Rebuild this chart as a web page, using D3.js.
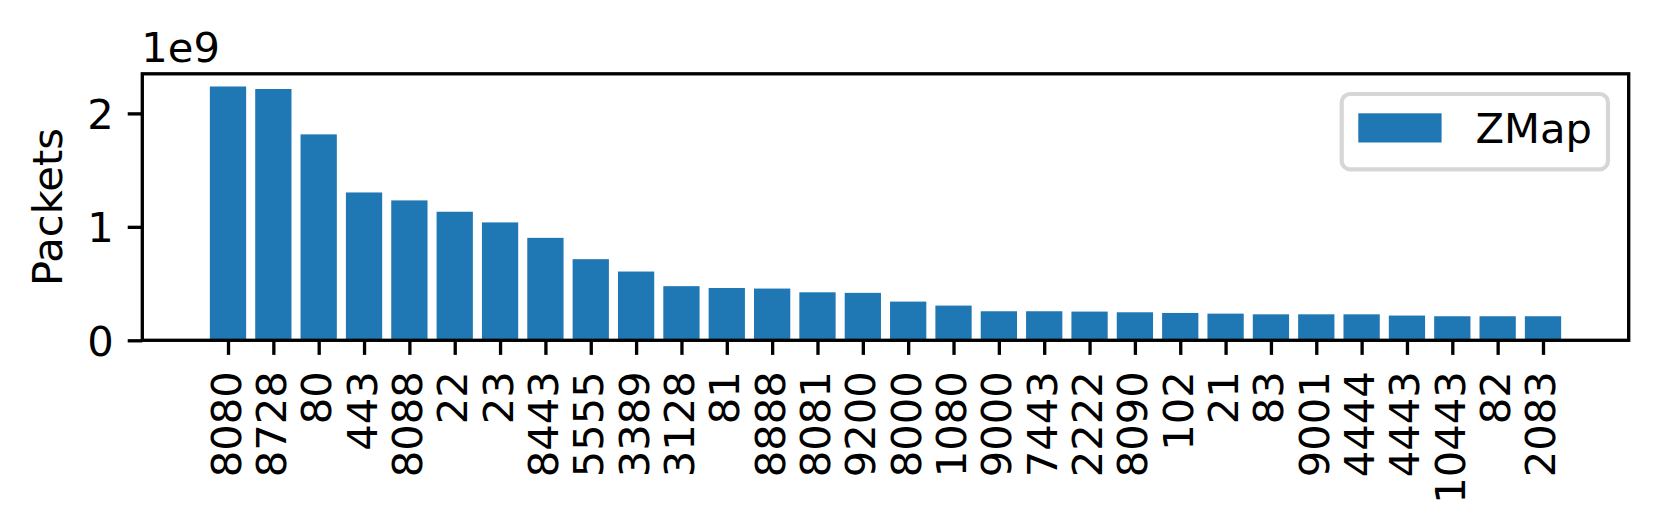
<!DOCTYPE html>
<html>
<head>
<meta charset="utf-8">
<script src="https://cdn.jsdelivr.net/npm/d3@7"></script>
<style>
  html, body { margin: 0; padding: 0; background: #fff; }
  svg { display: block; }
  text { font-family: "DejaVu Sans", sans-serif; fill: #000; }
</style>
</head>
<body>
<svg id="chart" width="1659" height="532"></svg>
<script>
const ports = ["8080","8728","80","443","8088","22","23","8443","5555","3389","3128","81","8888","8081","9200","8000","1080","9000","7443","2222","8090","102","21","83","9001","4444","4443","10443","82","2083"];
const packets = [2.237e9, 2.215e9, 1.815e9, 1.303e9, 1.233e9, 1.133e9, 1.039e9, 0.903e9, 0.715e9, 0.606e9, 0.477e9, 0.461e9, 0.456e9, 0.423e9, 0.418e9, 0.341e9, 0.306e9, 0.256e9, 0.256e9, 0.253e9, 0.247e9, 0.241e9, 0.235e9, 0.229e9, 0.229e9, 0.229e9, 0.218e9, 0.212e9, 0.212e9, 0.212e9];
const yTicks = [0, 1e9, 2e9];
const seriesName = "ZMap";
const offsetLabel = "1e9";
const yLabel = "Packets";

const color = "#1f77b4";
const fs = 41.67;           // 10pt at 300 dpi
const tickLen = 14.58;      // 3.5pt
const pad = 14.58;          // 3.5pt
const spineW = 3.33;        // 0.8pt

const L = 142.3, R = 1628.7, T = 73.8, B = 340.3;
const barW = 0.8;
const n = ports.length;
const dMin = -barW / 2, dMax = n - 1 + barW / 2;
const m = 0.05 * (dMax - dMin);
const x = d3.scaleLinear().domain([dMin - m, dMax + m]).range([L, R]);
const y = d3.scaleLinear().domain([0, d3.max(packets) * 1.05]).range([B, T]);

const svg = d3.select("#chart");

// bars
svg.append("g").selectAll("rect").data(packets).join("rect")
  .attr("x", (d, i) => x(i - barW / 2))
  .attr("width", (d, i) => x(i + barW / 2) - x(i - barW / 2))
  .attr("y", d => y(d))
  .attr("height", d => y(0) - y(d))
  .attr("fill", color);

// x axis ticks and labels
const xAxis = d3.axisBottom(x).tickValues(d3.range(n)).tickSize(tickLen).tickPadding(pad)
  .tickFormat(i => ports[i]);
const gx = svg.append("g").attr("transform", `translate(0,${B})`).call(xAxis);
gx.select(".domain").remove();
gx.selectAll(".tick line").attr("stroke", "#000").attr("stroke-width", spineW);
gx.selectAll(".tick text")
  .attr("font-size", fs)
  .attr("font-family", "DejaVu Sans")
  .attr("text-anchor", "end")
  .attr("x", 0).attr("y", 0).attr("dy", null)
  .attr("transform", `translate(0,${tickLen + pad + spineW / 2}) rotate(-90) translate(0,12)`);

// y axis
const yAxis = d3.axisLeft(y).tickValues(yTicks).tickSize(tickLen).tickPadding(pad)
  .tickFormat(v => d3.format("d")(v / 1e9));
const gy = svg.append("g").attr("transform", `translate(${L},0)`).call(yAxis);
gy.select(".domain").remove();
gy.selectAll(".tick line").attr("stroke", "#000").attr("stroke-width", spineW);
gy.selectAll(".tick text")
  .attr("font-size", fs)
  .attr("font-family", "DejaVu Sans")
  .attr("x", -(tickLen + pad - 0.5))
  .attr("dy", null)
  .attr("y", 15);

// spines
svg.append("rect")
  .attr("x", L).attr("y", T).attr("width", R - L).attr("height", B - T)
  .attr("fill", "none").attr("stroke", "#000").attr("stroke-width", spineW);

// offset text
svg.append("text").attr("x", L - 1).attr("y", 61.5).attr("font-size", fs).text(offsetLabel);

// y label
svg.append("text")
  .attr("transform", `translate(62,${(T + B) / 2}) rotate(-90)`)
  .attr("text-anchor", "middle")
  .attr("font-size", fs)
  .text(yLabel);

// legend
const lg = svg.append("g");
lg.append("rect")
  .attr("x", 1341.7).attr("y", 94).attr("width", 1608 - 1341.7).attr("height", 169.3 - 94)
  .attr("rx", 8.3).attr("ry", 8.3)
  .attr("fill", "#fff").attr("fill-opacity", 0.8)
  .attr("stroke", "#cccccc").attr("stroke-opacity", 0.8).attr("stroke-width", 4.17);
lg.append("rect")
  .attr("x", 1358.3).attr("y", 113.3).attr("width", 83.3).attr("height", 29.2)
  .attr("fill", color);
lg.append("text").attr("x", 1475.5).attr("y", 143).attr("font-size", fs).text(seriesName);
</script>
</body>
</html>
